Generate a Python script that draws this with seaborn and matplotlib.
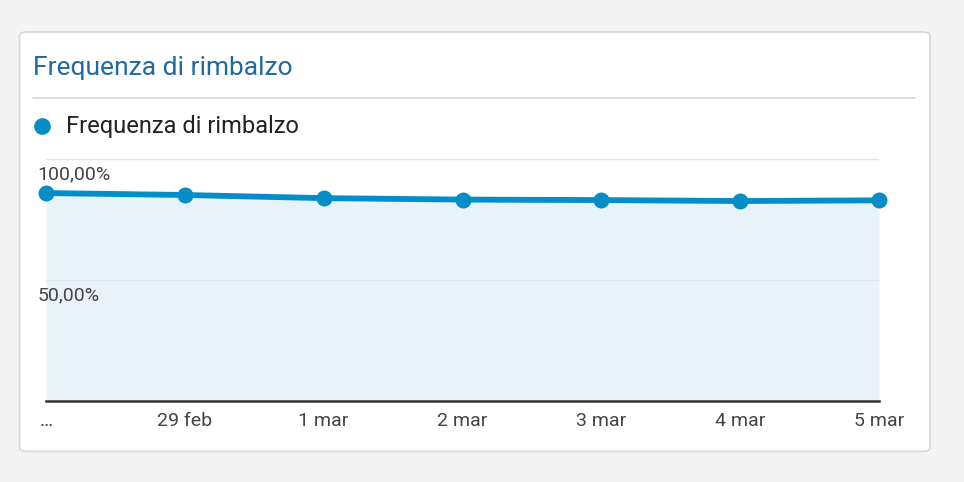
import matplotlib
matplotlib.use("Agg")
import matplotlib.pyplot as plt
import seaborn as sns
import pandas as pd
from matplotlib.patches import FancyBboxPatch
from matplotlib.lines import Line2D

# dati
giorni = ["…", "29 feb", "1 mar", "2 mar", "3 mar", "4 mar", "5 mar"]
frequenza = [86.0, 85.2, 83.9, 83.3, 83.1, 82.7, 83.0]
y_ticks = [50, 100]
y_labels = ["50,00%", "100,00%"]
titolo = "Frequenza di rimbalzo"

BLU = "#058dc7"
W, H = 964, 482

sns.set_theme(style="white")
plt.rcParams['font.family'] = ['Roboto', 'DejaVu Sans']

df = pd.DataFrame({"idx": range(len(giorni)), "giorno": giorni, "valore": frequenza})

fig = plt.figure(figsize=(W / 100, H / 100), dpi=100, facecolor="#f4f4f4")

# card bianca
card = FancyBboxPatch((19.5 / W, (H - 451.5) / H), (930 - 19.5) / W, (451.5 - 32) / H,
                      boxstyle="round,pad=0,rounding_size=0.008", transform=fig.transFigure,
                      facecolor="white", edgecolor="#d6d6d6", linewidth=1.2, zorder=-10)
fig.patches.append(card)

fig.text(33 / W, 1 - 68 / H, titolo, color="#1f6aa0", fontsize=19, va="center", ha="left")
fig.add_artist(Line2D([33 / W, 915 / W], [1 - 98 / H, 1 - 98 / H], color="#d9d9d9", lw=1.2,
                      transform=fig.transFigure))
# legenda
fig.add_artist(Line2D([41.5 / W], [1 - 126 / H], marker="o", markersize=11, color=BLU,
                      transform=fig.transFigure, linestyle="none"))
fig.text(66 / W, 1 - 126 / H, titolo, color="#222222", fontsize=17, va="center", ha="left")

ax = fig.add_axes([46 / W, 1 - 401 / H, (879 - 46) / W, (401 - 158) / H])
ax.set_facecolor("none")

ax.fill_between(df["idx"], df["valore"], 0, color="#e8f3f9", zorder=1, linewidth=0)
sns.lineplot(data=df, x="idx", y="valore", ax=ax, color=BLU, linewidth=4.2, marker="o",
             markersize=11.5, markeredgewidth=0, zorder=3, clip_on=False)

ax.set_xlim(0, len(giorni) - 1)
ax.set_ylim(0, 100.5)
for v, lab in zip(y_ticks, y_labels):
    ax.axhline(v, color="#e4e4e4", lw=1, zorder=2)
    ax.annotate(lab, xy=(0, v), xytext=(-6, -11), textcoords="offset points",
                ha="left", va="center", fontsize=14, color="#444444")

ax.set_xticks(df["idx"])
ax.set_xticklabels(giorni, fontsize=14, color="#444444")
ax.set_yticks([])
ax.set_xlabel("")
ax.set_ylabel("")
ax.tick_params(axis="x", length=0, pad=8)
for s in ["top", "right", "left"]:
    ax.spines[s].set_visible(False)
ax.spines["bottom"].set_color("#333333")
ax.spines["bottom"].set_linewidth(1.8)
ax.spines["bottom"].set_zorder(4)

fig.savefig("out.png", dpi=100, facecolor=fig.get_facecolor())
